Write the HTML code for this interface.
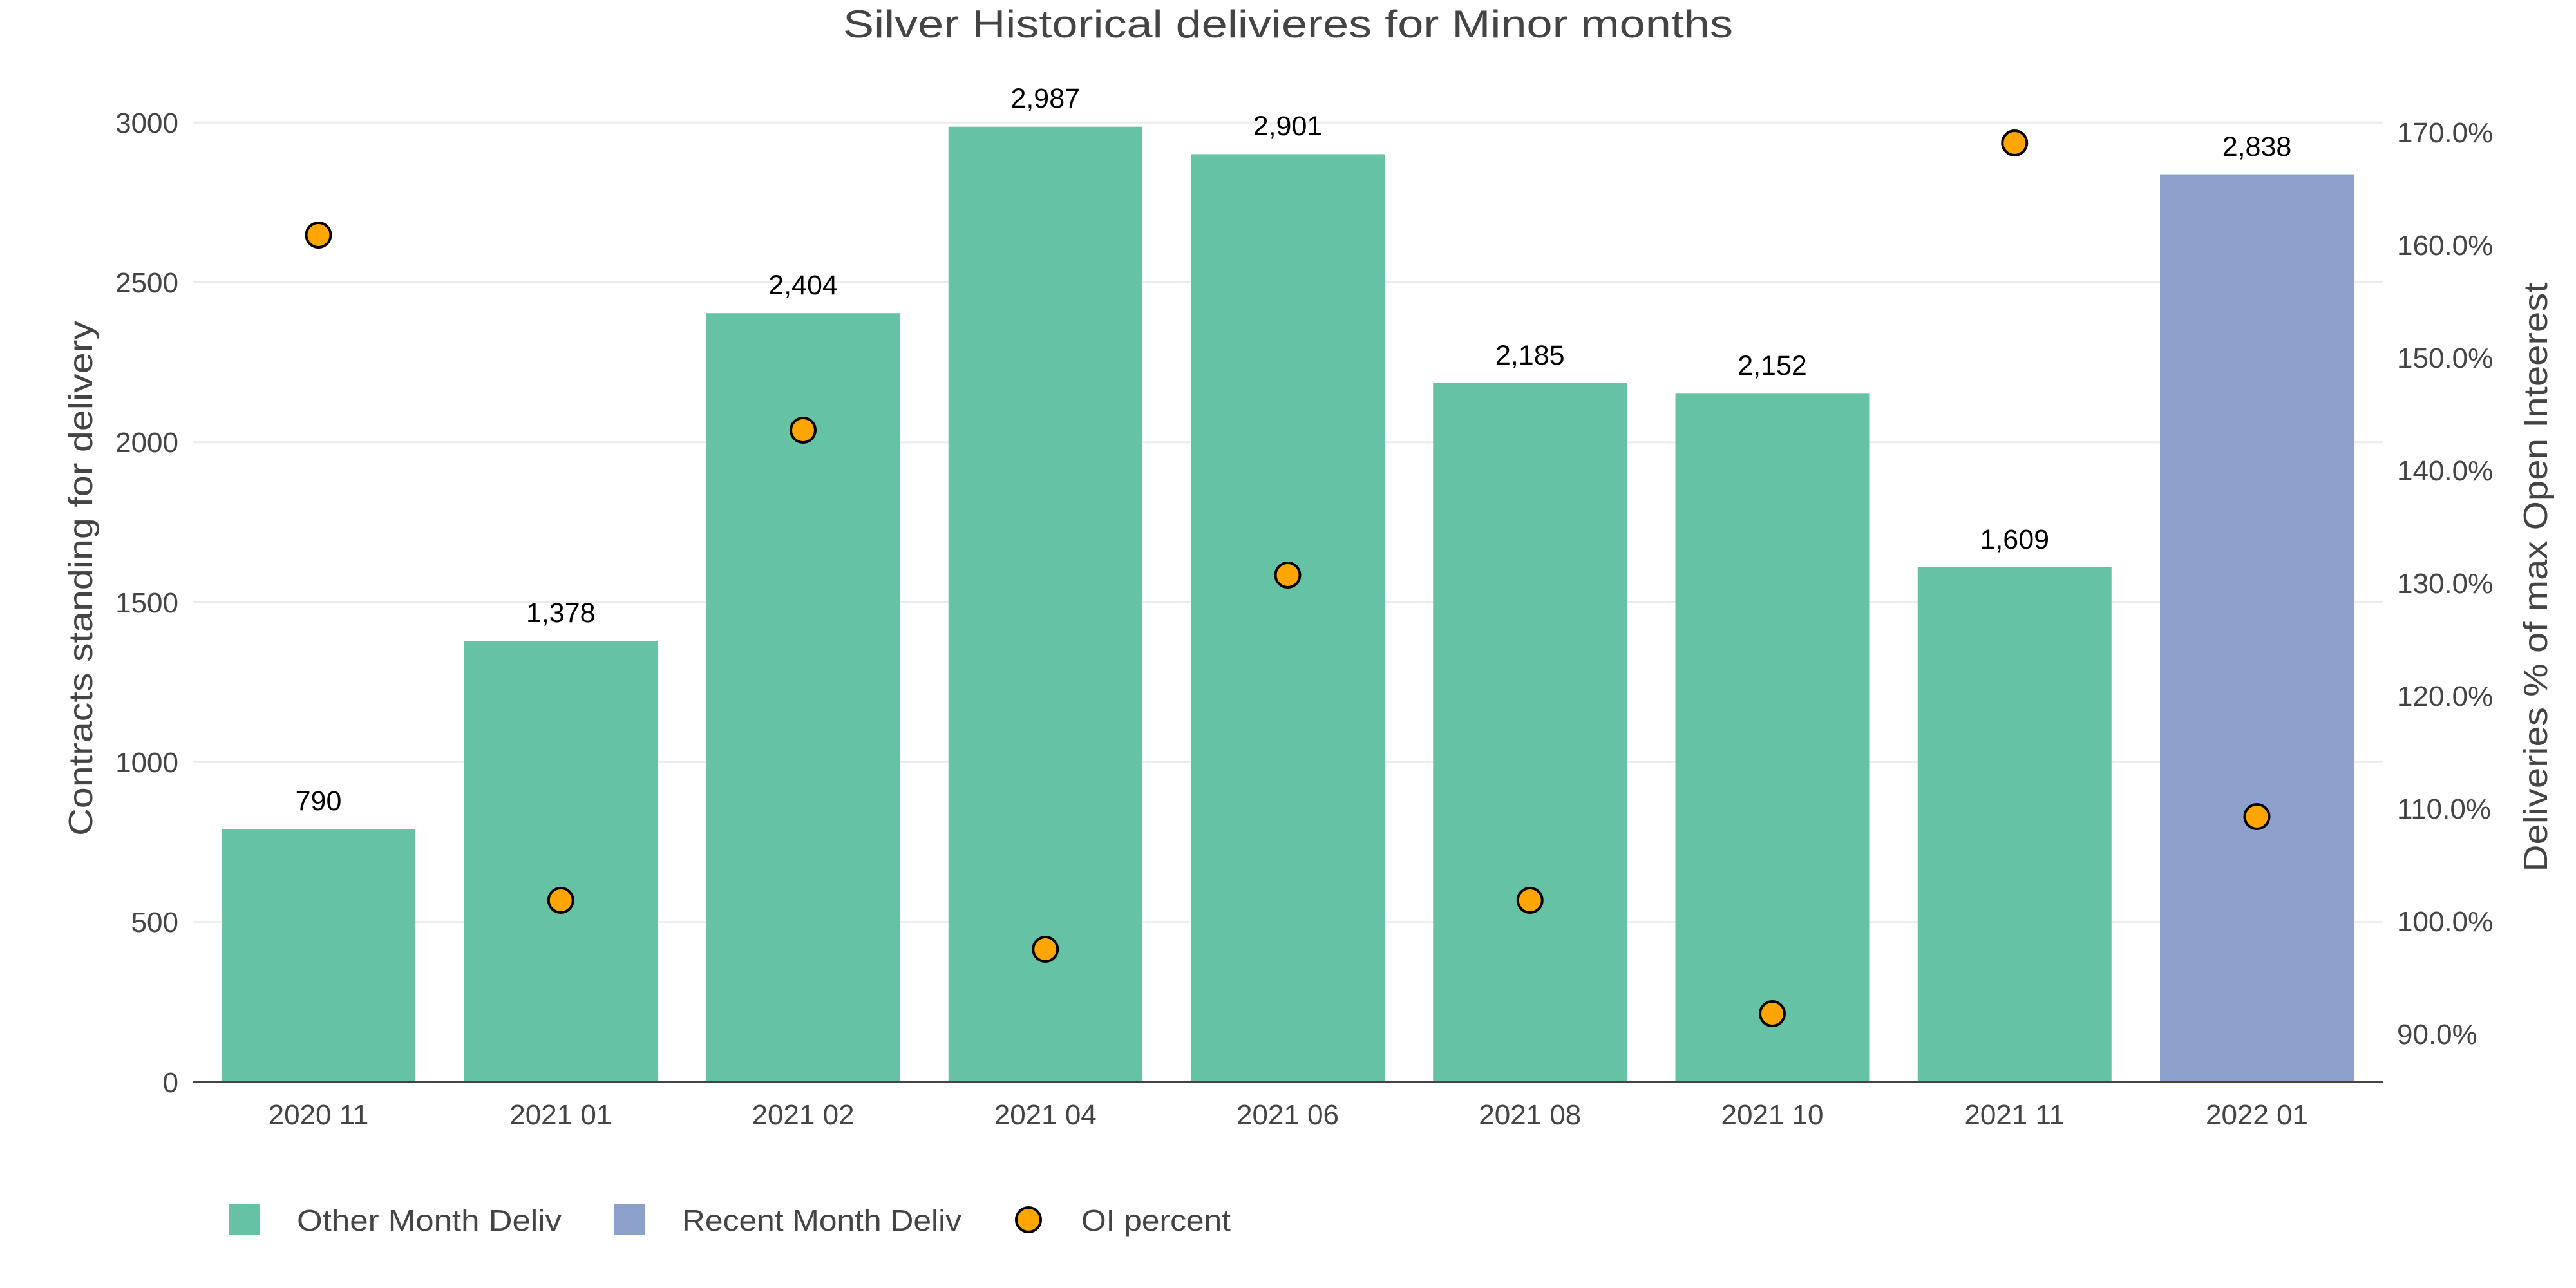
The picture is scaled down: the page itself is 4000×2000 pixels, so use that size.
<!DOCTYPE html>
<html><head><meta charset="utf-8"><style>
html,body{margin:0;padding:0;background:#fff;}
svg{display:block;}
text{font-family:"Liberation Sans",sans-serif;}
</style></head><body>
<svg width="4000" height="2000" viewBox="0 0 4000 2000" xmlns="http://www.w3.org/2000/svg">
<rect width="4000" height="2000" fill="#fff"/>
<text x="2000" y="58" font-size="60" fill="#444" text-anchor="middle" textLength="1382" lengthAdjust="spacingAndGlyphs">Silver Historical delivieres for Minor months</text>
<g stroke="#ebebeb" stroke-width="3">
<line x1="300" x2="3700" y1="1431.7" y2="1431.7"/>
<line x1="300" x2="3700" y1="1183.4" y2="1183.4"/>
<line x1="300" x2="3700" y1="935.1" y2="935.1"/>
<line x1="300" x2="3700" y1="686.8" y2="686.8"/>
<line x1="300" x2="3700" y1="438.5" y2="438.5"/>
<line x1="300" x2="3700" y1="190.2" y2="190.2"/>
</g>
<g font-size="44" fill="#444" text-anchor="end">
<text x="277" y="1696">0</text>
<text x="277" y="1447">500</text>
<text x="277" y="1199">1000</text>
<text x="277" y="951">1500</text>
<text x="277" y="702">2000</text>
<text x="277" y="454">2500</text>
<text x="277" y="206">3000</text>
</g>
<g font-size="44" fill="#444">
<text x="3722" y="221">170.0%</text>
<text x="3722" y="396">160.0%</text>
<text x="3722" y="571">150.0%</text>
<text x="3722" y="746">140.0%</text>
<text x="3722" y="921">130.0%</text>
<text x="3722" y="1096">120.0%</text>
<text x="3722" y="1271">110.0%</text>
<text x="3722" y="1446">100.0%</text>
<text x="3722" y="1621">90.0%</text>
</g>
<text transform="translate(143,898) rotate(-90)" font-size="52" fill="#444" text-anchor="middle" textLength="800" lengthAdjust="spacingAndGlyphs">Contracts standing for delivery</text>
<text transform="translate(3955,896) rotate(-90)" font-size="52" fill="#444" text-anchor="middle" textLength="915" lengthAdjust="spacingAndGlyphs">Deliveries % of max Open Inteerest</text>
<g fill="#66c2a5">
<rect x="344" y="1287.7" width="301" height="392.3"/>
<rect x="720.25" y="995.7" width="301" height="684.3"/>
<rect x="1096.5" y="486.2" width="301" height="1193.8"/>
<rect x="1472.75" y="196.7" width="301" height="1483.3"/>
<rect x="1849" y="239.4" width="301" height="1440.6"/>
<rect x="2225.25" y="594.9" width="301" height="1085.1"/>
<rect x="2601.5" y="611.3" width="301" height="1068.7"/>
<rect x="2977.75" y="881" width="301" height="799"/>
</g>
<rect x="3354" y="270.6" width="301" height="1409.4" fill="#8da0cb"/>
<line x1="300" x2="3700" y1="1680" y2="1680" stroke="#444" stroke-width="4"/>
<g font-size="43" fill="#000" text-anchor="middle">
<text x="494.5" y="1258">790</text>
<text x="870.75" y="966">1,378</text>
<text x="1247" y="457">2,404</text>
<text x="1623.25" y="167">2,987</text>
<text x="1999.5" y="210">2,901</text>
<text x="2375.75" y="566">2,185</text>
<text x="2752" y="582">2,152</text>
<text x="3128.25" y="852">1,609</text>
<text x="3504.5" y="242">2,838</text>
</g>
<g font-size="44" fill="#444" text-anchor="middle">
<text x="494.5" y="1746">2020 11</text>
<text x="870.75" y="1746">2021 01</text>
<text x="1247" y="1746">2021 02</text>
<text x="1623.25" y="1746">2021 04</text>
<text x="1999.5" y="1746">2021 06</text>
<text x="2375.75" y="1746">2021 08</text>
<text x="2752" y="1746">2021 10</text>
<text x="3128.25" y="1746">2021 11</text>
<text x="3504.5" y="1746">2022 01</text>
</g>
<g fill="#ffa500" stroke="#000" stroke-width="4">
<circle cx="494.5" cy="365" r="19"/>
<circle cx="870.75" cy="1398" r="19"/>
<circle cx="1247" cy="668" r="19"/>
<circle cx="1623.25" cy="1474" r="19"/>
<circle cx="1999.5" cy="893" r="19"/>
<circle cx="2375.75" cy="1398" r="19"/>
<circle cx="2752" cy="1574" r="19"/>
<circle cx="3128.25" cy="222" r="19"/>
<circle cx="3504.5" cy="1268" r="19"/>
</g>
<rect x="356" y="1870" width="48" height="48" fill="#66c2a5"/>
<text x="461" y="1911" font-size="46" fill="#444" textLength="411" lengthAdjust="spacingAndGlyphs">Other Month Deliv</text>
<rect x="953" y="1870" width="48" height="48" fill="#8da0cb"/>
<text x="1059" y="1911" font-size="46" fill="#444" textLength="434" lengthAdjust="spacingAndGlyphs">Recent Month Deliv</text>
<circle cx="1597" cy="1894" r="19" fill="#ffa500" stroke="#000" stroke-width="4"/>
<text x="1679" y="1911" font-size="46" fill="#444" textLength="232" lengthAdjust="spacingAndGlyphs">OI percent</text>
</svg>
</body></html>
